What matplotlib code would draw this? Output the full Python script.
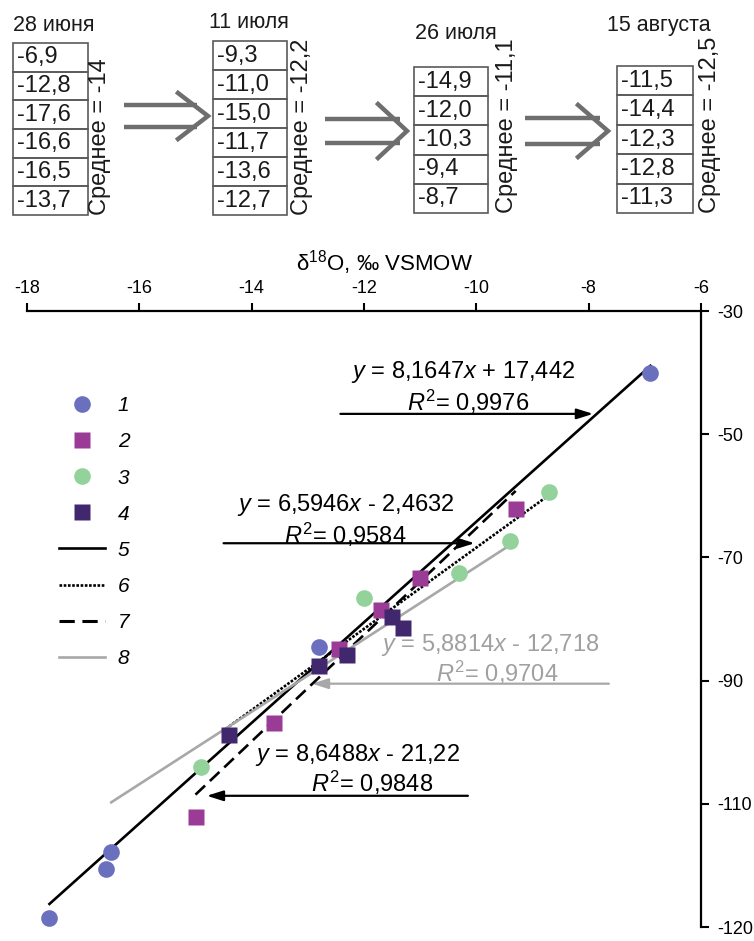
import matplotlib.pyplot as plt
from matplotlib.patches import Rectangle
from matplotlib.lines import Line2D

plt.rcParams['font.family'] = ['Liberation Sans', 'DejaVu Sans']
plt.rcParams['mathtext.fontset'] = 'custom'
plt.rcParams['mathtext.rm'] = 'Liberation Sans'
plt.rcParams['mathtext.it'] = 'Liberation Sans:italic'

# таблицы δ18O по датам отбора
dates = ['28 июня', '11 июля', '26 июля', '15 августа']
d18o_jun28 = [-6.9, -12.8, -17.6, -16.6, -16.5, -13.7]
d18o_jul11 = [-9.3, -11.0, -15.0, -11.7, -13.6, -12.7]
d18o_jul26 = [-14.9, -12.0, -10.3, -9.4, -8.7]
d18o_aug15 = [-11.5, -14.4, -12.3, -12.8, -11.3]
means = ['-14', '-12,2', '-11,1', '-12,5']

# точки (δ18O, δD)
s1_x = [-6.9, -12.8, -17.6, -16.5, -16.6]
s1_y = [-40.1, -84.5, -128.5, -117.9, -120.6]
s2_x = [-9.3, -11.0, -11.7, -12.45, -13.6, -15.0]
s2_y = [-62.1, -73.4, -78.5, -84.8, -96.9, -112.1]
s3_x = [-8.7, -9.4, -10.3, -12.0, -14.9]
s3_y = [-59.4, -67.3, -72.6, -76.6, -104.0]
s4_x = [-11.3, -11.5, -12.3, -12.8, -14.4]
s4_y = [-81.5, -79.6, -85.8, -87.6, -98.8]

# линии регрессии: наклон, свободный член, x от, x до
fit5 = (8.1647, 17.442, -17.6, -6.9)
fit6 = (6.5946, -2.4632, -14.4, -8.7)
fit7 = (8.6488, 21.22, -15.0, -9.3)
fit8 = (5.8814, -12.718, -16.5, -9.4)

xticks = [-18, -16, -14, -12, -10, -8, -6]
yticks = [-30, -50, -70, -90, -110, -130]
ytick_labels = ['-30', '-50', '-70', '-90', '-110', '-120']

fig = plt.figure(figsize=(7.54, 9.41), dpi=100)

# --- верх: таблицы и стрелки (в пикселях) ---
top = fig.add_axes([0, 0, 1, 1])
top.set_xlim(0, 754)
top.set_ylim(941, 0)
top.axis('off')

tables = [d18o_jun28, d18o_jul11, d18o_jul26, d18o_aug15]
boxes = [(13, 43, 75, 172), (213, 41, 74, 174), (414, 67, 74, 146), (617, 66, 76, 147)]
heads = [(13, 25), (209, 22), (415, 33), (607, 25)]
mean_x = [100, 302, 507, 710]

for vals, (l, t, w, h), (hx, hy), mx, d, m in zip(tables, boxes, heads, mean_x, dates, means):
    rh = h / len(vals)
    for i, v in enumerate(vals):
        top.add_patch(Rectangle((l, t + i * rh), w, rh, fill=False,
                                ec='#5a5a5a', lw=1.2))
        top.text(l + 4, t + (i + 0.5) * rh, f'{v:.1f}'.replace('.', ','),
                 fontsize=17, ha='left', va='center', color='#1a1a1a')
    top.text(hx, hy, d, fontsize=15.5, ha='left', va='center', color='#1a1a1a')
    top.text(mx, t + h, 'Среднее = ' + m, rotation=90, fontsize=17,
             ha='center', va='bottom', color='#1a1a1a')

arrows = [(124, 197, 105, 127, 178, 208, 23),
          (325, 400, 119, 143, 378, 407, 27),
          (525, 600, 118, 144, 578, 608, 26)]
for x0, x1, ya, yb, cx, tip, dh in arrows:
    for yy in (ya, yb):
        top.plot([x0, x1], [yy, yy], color='#6e6e6e', lw=3.2,
                 solid_capstyle='butt')
    ym = (ya + yb) / 2
    top.plot([cx, tip, cx], [ym - dh, ym, ym + dh], color='#6e6e6e', lw=3.2,
             solid_joinstyle='miter')

# --- график ---
ax = fig.add_axes([27 / 754, 1 - 927 / 941, 674 / 754, 616 / 941])
ax.set_xlim(-18, -6)
ax.set_ylim(-130, -30)

for fit, st, col in [(fit5, '-', 'black'), (fit6, (0, (1, 0.6)), 'black'),
                     (fit7, (0, (5, 2.5)), 'black'), (fit8, '-', '#a8a8a8')]:
    k, b, xa, xb = fit
    ax.plot([xa, xb], [k * xa + b, k * xb + b], color=col, ls=st, lw=1.9, zorder=2)

ms = 12
ax.plot(s1_x, s1_y, 'o', color='#6b70be', ms=ms, mec='none', zorder=4)
ax.plot(s2_x, s2_y, 's', color='#9a3c96', ms=ms, mec='none', zorder=4)
ax.plot(s3_x, s3_y, 'o', color='#93d29a', ms=ms, mec='none', zorder=4)
ax.plot(s4_x, s4_y, 's', color='#41286e', ms=ms, mec='none', zorder=4)

fs = 17
eqs = [(-10.23, -39.9, r'$y$ = 8,1647$x$ + 17,442', 'black'),
       (-10.15, -44.8, r'$R^{\mathregular{2}}$= 0,9976', 'black'),
       (-12.33, -61.5, r'$y$ = 6,5946$x$ - 2,4632', 'black'),
       (-12.33, -66.3, r'$R^{\mathregular{2}}$= 0,9584', 'black'),
       (-9.76, -84.2, r'$y$ = 5,8814$x$ - 12,718', '#a0a0a0'),
       (-9.63, -88.8, r'$R^{\mathregular{2}}$= 0,9704', '#a0a0a0'),
       (-12.12, -102.1, r'$y$ = 8,6488$x$ - 21,22', 'black'),
       (-11.85, -106.6, r'$R^{\mathregular{2}}$= 0,9848', 'black')]
for x, y, s, c in eqs:
    ax.text(x, y, s, fontsize=fs, color=c, ha='center', va='center', zorder=1)

arr = [((-7.92, -46.7), (-12.42, -46.7), 'black'),
       ((-10.03, -67.7), (-14.5, -67.7), 'black'),
       ((-12.93, -90.5), (-7.64, -90.5), '#a8a8a8'),
       ((-14.8, -108.7), (-10.15, -108.7), 'black')]
for tip, tail, c in arr:
    ax.annotate('', xy=tip, xytext=tail, zorder=1,
                arrowprops=dict(arrowstyle='-|>,head_length=0.7,head_width=0.22',
                                color=c, lw=1.6, mutation_scale=14,
                                shrinkA=0, shrinkB=0))

ax.spines['left'].set_visible(False)
ax.spines['bottom'].set_visible(False)
for sp in ('top', 'right'):
    ax.spines[sp].set_linewidth(1.6)
ax.xaxis.tick_top()
ax.yaxis.tick_right()
ax.xaxis.set_label_position('top')
ax.set_xticks(xticks)
ax.set_xticklabels([str(v) for v in xticks])
ax.set_yticks(yticks)
ax.set_yticklabels(ytick_labels)
ax.tick_params(direction='out', length=6, width=1.5, labelsize=13, pad=4)
ax.tick_params(axis='y', pad=6)
ax.set_xlabel(r'$\mathregular{\delta^{18}}$O, ‰ VSMOW', fontsize=16, labelpad=8)
ax.xaxis.set_label_coords(0.53, 1.066)

handles = [
    Line2D([0], [0], marker='o', ls='none', color='#6b70be', ms=ms, mec='none'),
    Line2D([0], [0], marker='s', ls='none', color='#9a3c96', ms=ms, mec='none'),
    Line2D([0], [0], marker='o', ls='none', color='#93d29a', ms=ms, mec='none'),
    Line2D([0], [0], marker='s', ls='none', color='#41286e', ms=ms, mec='none'),
    Line2D([0], [0], color='black', lw=1.9),
    Line2D([0], [0], color='black', lw=1.9, ls=(0, (1, 0.6))),
    Line2D([0], [0], color='black', lw=2.2, ls=(0, (5, 2.5))),
    Line2D([0], [0], color='#a8a8a8', lw=1.9),
]
labels = ['1', '2', '3', '4', '5', '6', '7', '8']
ax.legend(handles, labels, loc='upper left', bbox_to_anchor=(49 / 754, 1 - 386 / 941),
          bbox_transform=fig.transFigure, frameon=False, borderpad=0,
          handlelength=2.2, handletextpad=0.6, labelspacing=0.82,
          prop={'style': 'italic', 'size': 15})

fig.savefig('out.png', dpi=100)
